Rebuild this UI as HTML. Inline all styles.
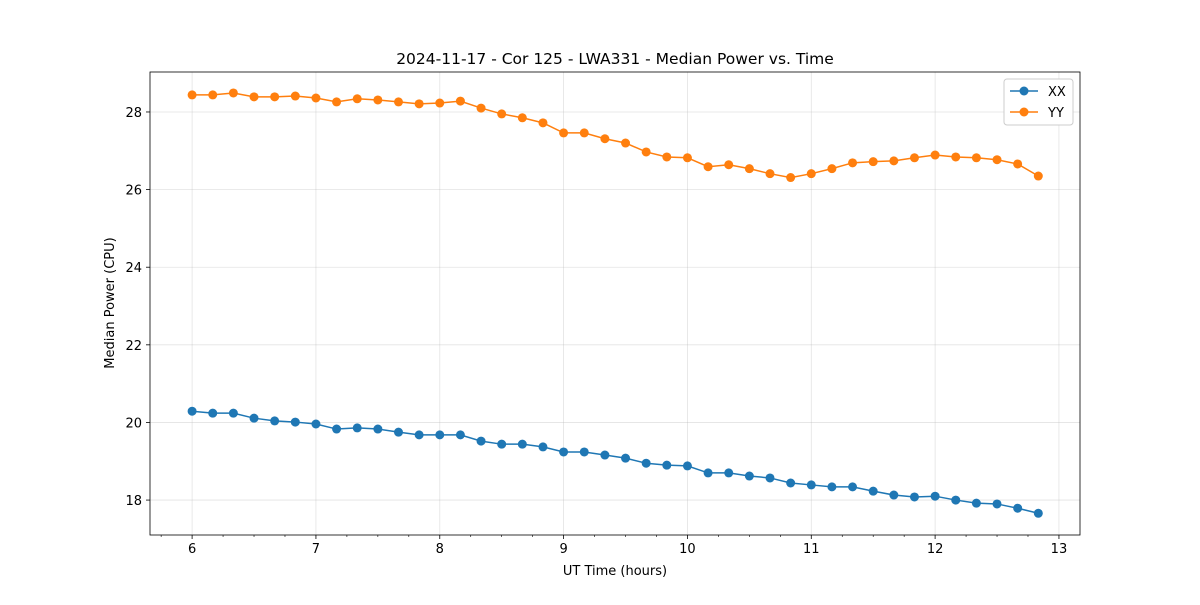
<!DOCTYPE html>
<html><head><meta charset="utf-8"><style>
body{margin:0;background:#fff;font-family:"Liberation Sans","DejaVu Sans",sans-serif;}
svg text{font-family:"DejaVu Sans","Liberation Sans",sans-serif;}
</style></head><body>
<svg id="chart" width="1200" height="600" xmlns="http://www.w3.org/2000/svg"></svg>
<script>
const times = [];
for (let i = 0; i < 42; i++) times.push(6 + i / 6);
const xxValues = [20.29,20.24,20.24,20.11,20.04,20.01,19.96,19.83,19.86,19.83,19.75,19.68,19.68,19.68,19.52,19.44,19.44,19.37,19.24,19.24,19.16,19.08,18.95,18.90,18.88,18.70,18.70,18.62,18.57,18.44,18.39,18.34,18.34,18.23,18.13,18.08,18.10,18.00,17.92,17.90,17.79,17.66];
const yyValues = [28.44,28.44,28.49,28.39,28.39,28.41,28.36,28.26,28.34,28.31,28.26,28.21,28.23,28.28,28.10,27.95,27.85,27.72,27.46,27.46,27.31,27.20,26.97,26.84,26.82,26.59,26.64,26.54,26.41,26.31,26.41,26.54,26.69,26.72,26.74,26.82,26.89,26.84,26.82,26.77,26.66,26.35];
const xTicks = [6,7,8,9,10,11,12,13];
const yTicks = [18,20,22,24,26,28];

const svg = document.getElementById('chart');
const NS = 'http://www.w3.org/2000/svg';
const L=150,R=1080,T=72,B=535;
const xMin=5.66,xMax=13.17,yMin=17.10,yMax=29.03;
const xs = v => L + (v - xMin) / (xMax - xMin) * (R - L);
const ys = v => B - (v - yMin) / (yMax - yMin) * (B - T);
function mk(tag, attrs, txt){const e=document.createElementNS(NS,tag);for(const k in attrs)e.setAttribute(k,attrs[k]);if(txt!==undefined)e.textContent=txt;svg.appendChild(e);return e;}

xTicks.forEach(t=>{
  const g=mk('line',{x1:xs(t),x2:xs(t),y1:T,y2:B,stroke:'#b0b0b0','stroke-opacity':0.35,'stroke-width':0.8});
  
  mk('line',{x1:xs(t),x2:xs(t),y1:B,y2:B+4,stroke:'#000','stroke-width':0.8});
  const tl=mk('text',{x:xs(t),y:B+18,'text-anchor':'middle','font-size':13},t);
  
});
for(let m=5.75;m<xMax;m+=0.25){ if(Math.abs(m-Math.round(m))<0.01)continue; mk('line',{x1:xs(m),x2:xs(m),y1:B,y2:B+2,stroke:'#000','stroke-width':0.6}); }
yTicks.forEach(t=>{
  const g=mk('line',{x1:L,x2:R,y1:ys(t),y2:ys(t),stroke:'#b0b0b0','stroke-opacity':0.35,'stroke-width':0.8});
  
  mk('line',{x1:L-4,x2:L,y1:ys(t),y2:ys(t),stroke:'#000','stroke-width':0.8});
  const tl=mk('text',{x:L-8,y:ys(t)+5,'text-anchor':'end','font-size':13},t);
  
});
function series(vals,color,name){
  const p=mk('polyline',{points:vals.map((v,i)=>xs(times[i])+','+ys(v)).join(' '),fill:'none',stroke:color,'stroke-width':1.5});
  
  vals.forEach((v,i)=>{const c=mk('circle',{cx:xs(times[i]),cy:ys(v),r:4.5,fill:color});
    });
}
series(xxValues,'#1f77b4','xx');
series(yyValues,'#ff7f0e','yy');
const fr=mk('rect',{x:L,y:T,width:R-L,height:B-T,fill:'none',stroke:'#000','stroke-width':0.8});

const ti=mk('text',{x:(L+R)/2,y:64,'text-anchor':'middle','font-size':15.5},'2024-11-17 - Cor 125 - LWA331 - Median Power vs. Time');

const xt=mk('text',{x:(L+R)/2,y:575,'text-anchor':'middle','font-size':13},'UT Time (hours)');

const yt=mk('text',{x:0,y:0,'text-anchor':'middle','font-size':13,transform:'translate(114,303) rotate(-90)'},'Median Power (CPU)');

const lg=mk('rect',{x:1004,y:79,width:69,height:46,fill:'#fff',stroke:'#ccc',rx:3});

[['XX','#1f77b4',91],['YY','#ff7f0e',112]].forEach(([n,c,y])=>{
  mk('line',{x1:1010,x2:1038,y1:y,y2:y,stroke:c,'stroke-width':1.5});
  mk('circle',{cx:1024,cy:y,r:4.5,fill:c});
  const t=mk('text',{x:1048,y:y+5,'font-size':13},n);
  
});
</script>
</body></html>
